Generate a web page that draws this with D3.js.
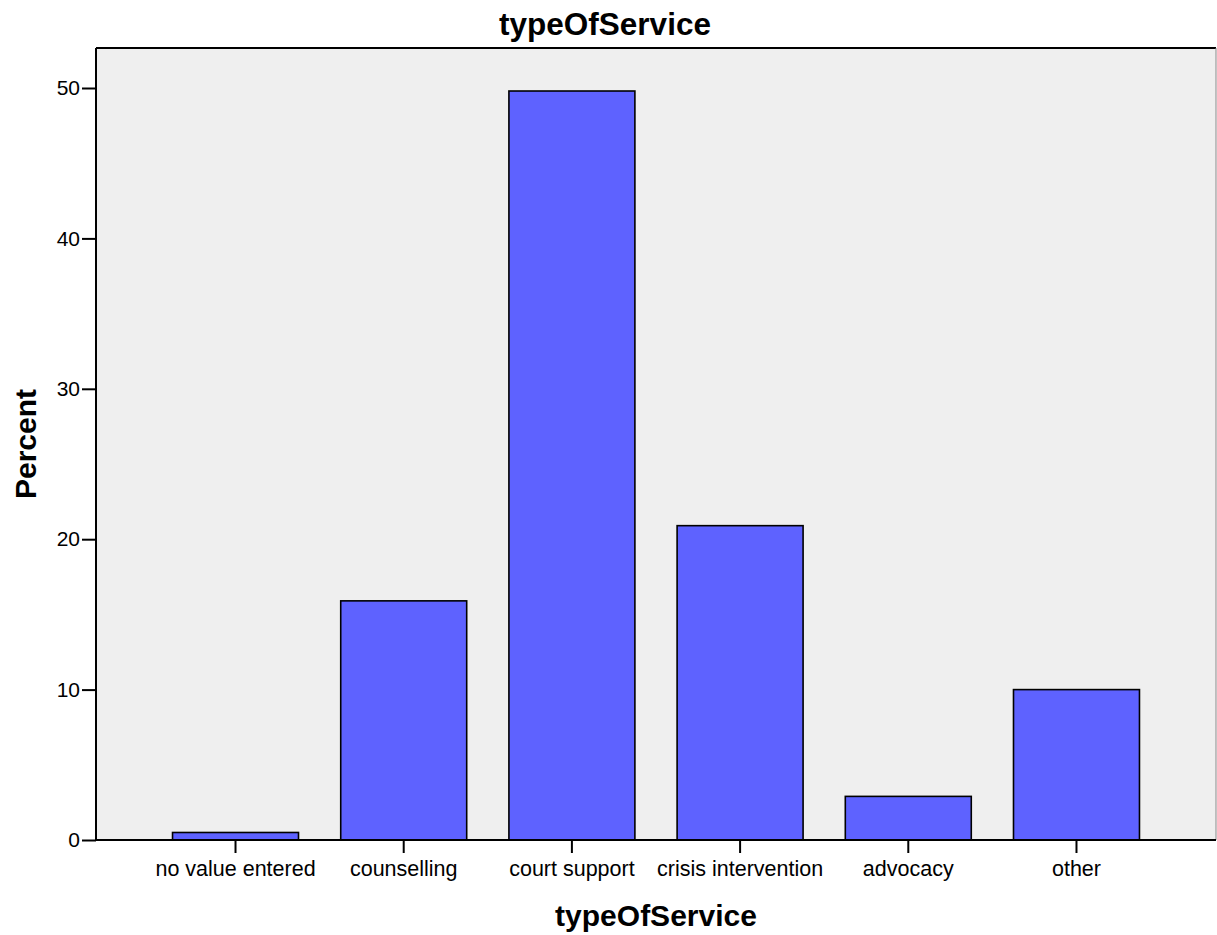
<!DOCTYPE html>
<html>
<head>
<meta charset="utf-8">
<script src="https://cdn.jsdelivr.net/npm/d3@7"></script>
<style>
  body { margin: 0; background: #fff; }
  text { font-family: "Liberation Sans", Arial, sans-serif; fill: #000; }
</style>
</head>
<body>
<div id="chart"></div>
<script>
// values
let categories = ["no value entered", "counselling", "court support", "crisis intervention", "advocacy", "other"]
let percents = [0.5, 15.9, 49.8, 20.9, 2.9, 10.0]
let yTicks = [0, 10, 20, 30, 40, 50]

let width = 1217, height = 935
let margin = {left: 96, top: 48, right: 1, bottom: 95}

let svg = d3.select("#chart")
    .append("svg")
    .attr("width", width)
    .attr("height", height)

let x = d3.scaleBand()
    .domain(categories)
    .range([margin.left, width - margin.right])
    .paddingInner(0.251)
    .paddingOuter(0.455)

let y = d3.scaleLinear()
    .domain([0, 50])
    .range([height - margin.bottom, 88])

// plot background
svg.append("rect")
    .attr("x", margin.left)
    .attr("y", margin.top)
    .attr("width", width - margin.right - margin.left)
    .attr("height", height - margin.bottom - margin.top)
    .attr("fill", "#efefef")

svg.append("line")
    .attr("x1", margin.left).attr("x2", width - margin.right)
    .attr("y1", margin.top).attr("y2", margin.top)
    .attr("stroke", "#000").attr("stroke-width", 2)
svg.append("line")
    .attr("x1", width - margin.right).attr("x2", width - margin.right)
    .attr("y1", margin.top).attr("y2", height - margin.bottom)
    .attr("stroke", "#888").attr("stroke-width", 1)

// bars
svg.append("g")
    .selectAll("rect")
    .data(categories)
    .enter()
    .append("rect")
    .attr("x", d => x(d))
    .attr("width", x.bandwidth())
    .attr("y", (d, i) => y(percents[i]))
    .attr("height", (d, i) => y(0) - y(percents[i]))
    .attr("fill", "#5e62ff")
    .attr("stroke", "#000")
    .attr("stroke-width", 1.6)

// axes
let yAxis = svg.append("g")
    .attr("transform", `translate(${margin.left}, 0)`)
    .call(d3.axisLeft(y).tickValues(yTicks).tickSize(14).tickPadding(2).tickFormat(d3.format("d")))
yAxis.select(".domain").attr("d", `M0,${margin.top}V${height - margin.bottom}`).attr("stroke-width", 2)
yAxis.selectAll(".tick line").attr("stroke-width", 2)
yAxis.selectAll("text").style("font-size", "21px").attr("fill", "#000")

let xAxis = svg.append("g")
    .attr("transform", `translate(0, ${height - margin.bottom})`)
    .call(d3.axisBottom(x).tickSize(13).tickPadding(8))
xAxis.select(".domain").attr("d", `M${margin.left},0H${width - margin.right}`).attr("stroke-width", 2)
xAxis.selectAll(".tick line").attr("stroke-width", 2)
xAxis.selectAll("text").style("font-size", "21.5px").attr("fill", "#000")

// titles
svg.append("text")
    .attr("x", 605).attr("y", 35)
    .attr("text-anchor", "middle")
    .style("font-size", "31.5px").style("font-weight", "bold")
    .text("typeOfService")

svg.append("text")
    .attr("x", (margin.left + width - margin.right) / 2).attr("y", 926)
    .attr("text-anchor", "middle")
    .style("font-size", "30px").style("font-weight", "bold")
    .text("typeOfService")

svg.append("text")
    .attr("transform", `translate(36, ${(margin.top + height - margin.bottom) / 2}) rotate(-90)`)
    .attr("text-anchor", "middle")
    .style("font-size", "30px").style("font-weight", "bold")
    .text("Percent")
</script>
</body>
</html>
